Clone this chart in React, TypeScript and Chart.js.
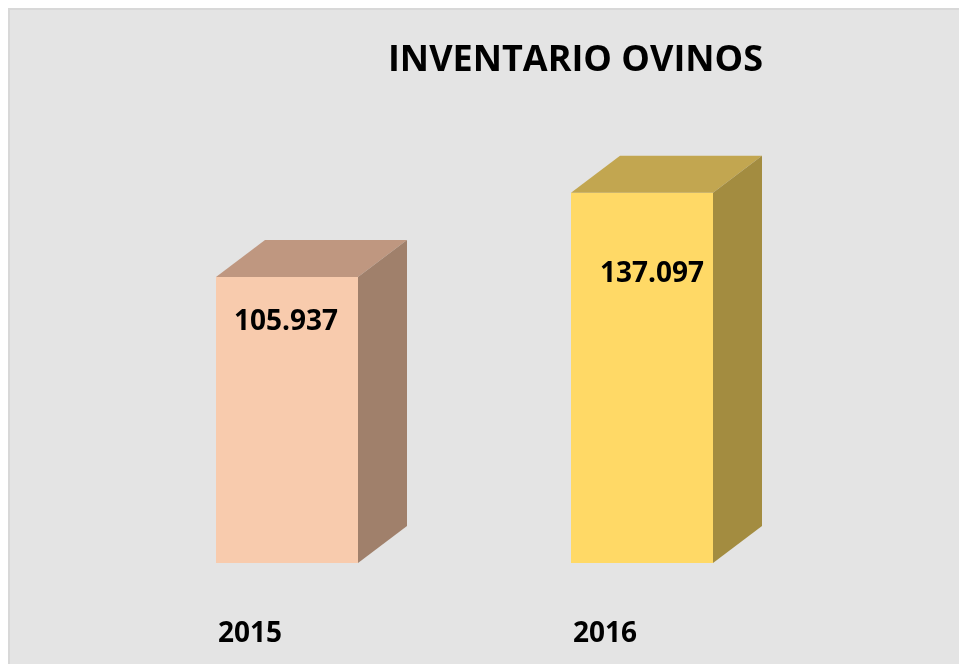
import React, { useEffect, useRef } from "react";
import { Chart, registerables } from "chart.js";

Chart.register(...registerables);

const categories = ["2015", "2016"];
const values = [105937, 137097];
const chartTitle = "INVENTARIO OVINOS";
const yMax = 160000;

const frontColors = ["#f8cbad", "#ffd966"];
const topColors = ["#bf9780", "#c2a650"];
const sideColors = ["#a0806b", "#a38c40"];
const labelOffsets = [
  { dx: -1, dy: 45 },
  { dx: 10, dy: 81 },
];
const DEPTH_X = 49;
const DEPTH_Y = 37;
const FONT = "'Open Sans', 'Noto Sans', sans-serif";

function formatThousands(v: number): string {
  const s = String(Math.round(v));
  return s.replace(/\B(?=(\d{3})+(?!\d))/g, ".");
}

const box3d = {
  id: "box3d",
  beforeDraw(chart: any) {
    const ctx = chart.ctx as CanvasRenderingContext2D;
    ctx.save();
    ctx.fillStyle = "#e4e4e4";
    ctx.fillRect(0, 0, chart.width, chart.height);
    ctx.fillStyle = "#d8d8d8";
    ctx.fillRect(0, 0, chart.width, 2);
    ctx.fillRect(0, 0, 2, chart.height);
    ctx.restore();
  },
  afterDatasetsDraw(chart: any) {
    const ctx = chart.ctx as CanvasRenderingContext2D;
    const meta = chart.getDatasetMeta(0);
    const area = chart.chartArea;
    meta.data.forEach((bar: any, i: number) => {
      const { x, y, base, width } = bar.getProps(["x", "y", "base", "width"], true);
      const l = x - width / 2;
      const r = x + width / 2;
      ctx.save();
      ctx.fillStyle = topColors[i];
      ctx.beginPath();
      ctx.moveTo(l, y);
      ctx.lineTo(l + DEPTH_X, y - DEPTH_Y);
      ctx.lineTo(r + DEPTH_X, y - DEPTH_Y);
      ctx.lineTo(r, y);
      ctx.closePath();
      ctx.fill();

      ctx.fillStyle = sideColors[i];
      ctx.beginPath();
      ctx.moveTo(r, y);
      ctx.lineTo(r + DEPTH_X, y - DEPTH_Y);
      ctx.lineTo(r + DEPTH_X, base - DEPTH_Y);
      ctx.lineTo(r, base);
      ctx.closePath();
      ctx.fill();

      ctx.fillStyle = "#000000";
      ctx.font = `bold 28px ${FONT}`;
      ctx.textAlign = "center";
      ctx.textBaseline = "middle";
      ctx.fillText(formatThousands(values[i]), x + labelOffsets[i].dx, y + labelOffsets[i].dy);

      ctx.textAlign = "left";
      ctx.textBaseline = "alphabetic";
      ctx.fillText(categories[i], l + 2, area.bottom + 79);
      ctx.restore();
    });

    ctx.save();
    ctx.fillStyle = "#000000";
    ctx.font = `bold 36px ${FONT}`;
    ctx.textAlign = "center";
    ctx.textBaseline = "alphabetic";
    ctx.fillText(chartTitle, 567.5, 63);
    ctx.restore();
  },
};

export default function App() {
  const ref = useRef<HTMLCanvasElement>(null);
  useEffect(() => {
    document.documentElement.style.overflow = "hidden";
    document.body.style.overflow = "hidden";
    if (!ref.current) return;
    const chart = new Chart(ref.current, {
      type: "bar",
      data: {
        labels: categories,
        datasets: [
          {
            data: values,
            backgroundColor: frontColors,
            borderWidth: 0,
            barPercentage: 0.8,
            categoryPercentage: 0.5,
          },
        ],
      },
      options: {
        responsive: false,
        animation: false,
        devicePixelRatio: 1,
        layout: { padding: { left: 101.5, right: 139.5, top: 123, bottom: 101 } },
        plugins: {
          legend: { display: false },
          title: { display: false },
          tooltip: { enabled: false },
        },
        scales: {
          x: { display: false },
          y: { display: false, min: 0, max: yMax },
        },
      },
      plugins: [box3d],
    });
    return () => chart.destroy();
  }, []);
  return (
    <canvas
      ref={ref}
      width={951}
      height={656}
      style={{ display: "block", position: "fixed", left: 8, top: 8 }}
    />
  );
}
